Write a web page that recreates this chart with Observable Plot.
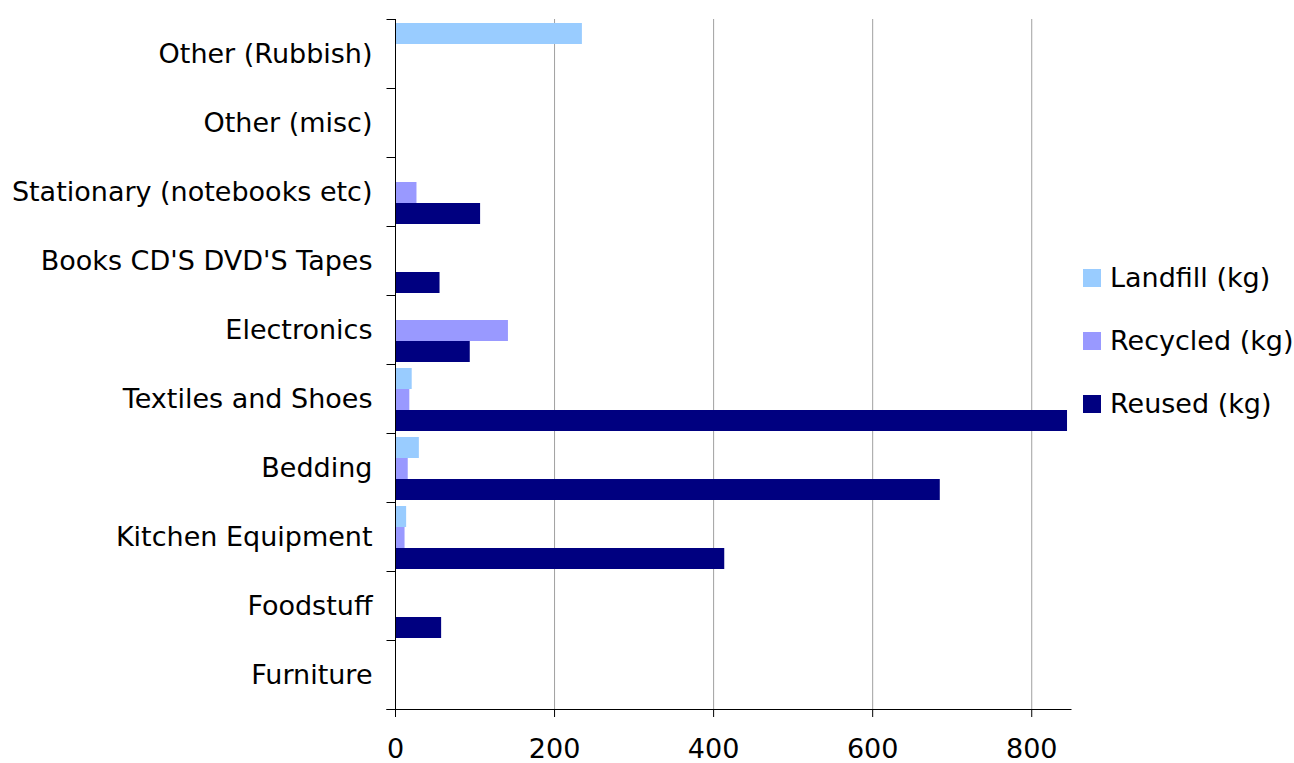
<!DOCTYPE html>
<html><head><meta charset="utf-8">
<script src="https://cdn.jsdelivr.net/npm/d3@7"></script>
<script src="https://cdn.jsdelivr.net/npm/@observablehq/plot@0.6"></script>
<style>
body{margin:0;background:#fff;font-family:"DejaVu Sans",Verdana,sans-serif;}
#wrap{position:relative;width:1294px;height:763px;overflow:hidden;}
.lg{position:absolute;left:1083px;height:28px;line-height:28px;font-size:27px;color:#000;white-space:nowrap;}
.lg span.sw{position:absolute;left:0;top:5px;width:18px;height:18px;}
.lg span.tx{position:absolute;left:27px;top:0;}
</style></head><body><div id="wrap"></div>
<script>
const categories = ["Other (Rubbish)", "Other (misc)", "Stationary (notebooks etc)", "Books CD'S DVD'S Tapes", "Electronics", "Textiles and Shoes", "Bedding", "Kitchen Equipment", "Foodstuff", "Furniture"];
const series = ["Landfill (kg)", "Recycled (kg)", "Reused (kg)"];
const landfill = [235, 0, 0, 0, 0, 21, 30, 14, 0, 0];
const recycled = [0, 0, 27, 0, 142, 18, 16, 12, 0, 0];
const reused   = [0, 0, 107, 56, 94, 845, 685, 414, 58, 0];
const colors = ["#99ccff", "#9999ff", "#000080"];
const xTicks = [0, 200, 400, 600, 800];
const xMax = 850;

const valuesBySeries = [landfill, recycled, reused];
const data = [];
categories.forEach((c, i) => {
  series.forEach((s, j) => {
    data.push({category: c, series: s, value: valuesBySeries[j][i]});
  });
});

const font = '"DejaVu Sans", Verdana, sans-serif';
const chart = Plot.plot({
  width: 1294, height: 763,
  marginLeft: 395, marginRight: 223, marginTop: 18, marginBottom: 53,
  style: {fontFamily: font, fontSize: "27px", color: "#000", background: "#fff", overflow: "visible"},
  x: {domain: [0, xMax], ticks: xTicks, label: null},
  y: {domain: series, paddingInner: 0, paddingOuter: 0.1, align: 0.7, axis: null},
  fy: {domain: categories, padding: 0, label: null, axis: null},
  color: {domain: series, range: colors},
  marks: [
    Plot.gridX(xTicks, {stroke: "#a0a0a0", strokeOpacity: 1, strokeWidth: 1}),
    Plot.barX(data, {fy: "category", y: "series", x: "value", fill: "series"}),
    Plot.ruleX([0], {stroke: "#000", strokeWidth: 1}),
    Plot.axisX({ticks: xTicks, tickSize: 8, tickPadding: 21, label: null, fontSize: 27, stroke: "#000"}),
    Plot.axisFy({anchor: "left", tickSize: 0, tickPadding: 23, label: null, fontSize: 27})
  ]
});

// boundary ticks and x-axis baseline drawn through Plot's own scales
const fy = chart.scale("fy");
const xs = chart.scale("x");
const x0 = xs.apply(0);
const bounds = categories.map(c => fy.apply(c));
const last = fy.apply(categories[categories.length - 1]) + fy.bandwidth;
bounds.push(last);
const g = d3.select(chart).append("g").attr("stroke", "#000").attr("stroke-width", 1).attr("transform", "translate(0.5,0.5)");
g.selectAll("line.bt").data(bounds).join("line").attr("class", "bt")
  .attr("x1", x0 - 9).attr("x2", x0).attr("y1", d => d).attr("y2", d => d);
g.append("line").attr("x1", x0 - 9).attr("x2", xs.apply(xMax)).attr("y1", last).attr("y2", last);

const wrap = document.getElementById("wrap");
wrap.appendChild(chart);

// legend
const legendCenters = [278, 341, 404];
series.forEach((s, i) => {
  const d = document.createElement("div");
  d.className = "lg";
  d.style.top = (legendCenters[i] - 14) + "px";
  d.innerHTML = `<span class="sw" style="background:${colors[i]}"></span><span class="tx"></span>`;
  d.querySelector(".tx").textContent = s;
  wrap.appendChild(d);
});
</script>
</body></html>
